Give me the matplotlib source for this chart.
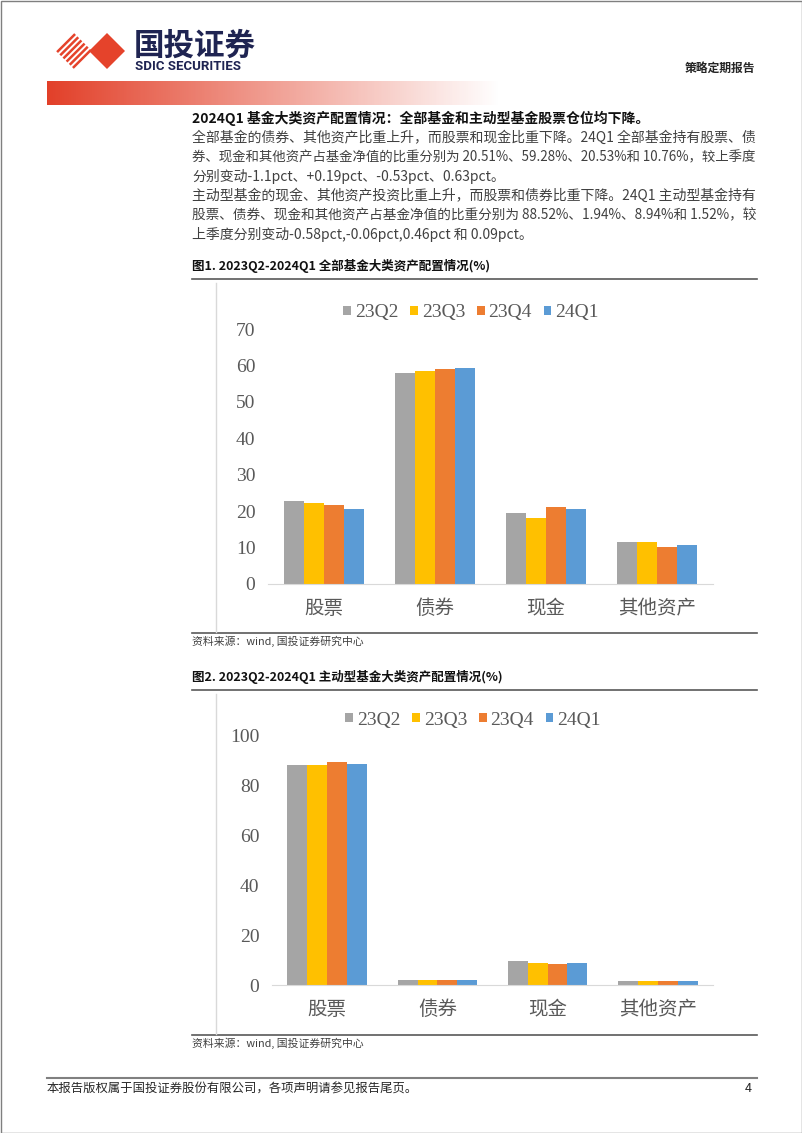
import numpy as np
import matplotlib
matplotlib.use("Agg")
import matplotlib.pyplot as plt
from matplotlib.patches import Polygon, Rectangle

plt.rcParams['font.family'] = ['Noto Sans CJK SC', 'DejaVu Sans']

# donnees
categories = ['股票', '债券', '现金', '其他资产']
quarters = ['23Q2', '23Q3', '23Q4', '24Q1']
colors = ['#A5A5A5', '#FFC000', '#ED7D31', '#5B9BD5']

# fig 1 : tous les fonds
all_23q2 = [22.7, 57.8, 19.6, 11.4]
all_23q3 = [22.3, 58.5, 18.0, 11.4]
all_23q4 = [21.61, 59.09, 21.06, 10.13]
all_24q1 = [20.51, 59.28, 20.53, 10.76]

# fig 2 : fonds actifs
act_23q2 = [88.2, 2.0, 9.6, 1.5]
act_23q3 = [88.1, 2.0, 8.7, 1.6]
act_23q4 = [89.10, 2.00, 8.48, 1.43]
act_24q1 = [88.52, 1.94, 8.94, 1.52]

W, H = 802, 1133
fig = plt.figure(figsize=(W / 100, H / 100), dpi=100)
renderer = fig.canvas.get_renderer()

# calque page en pixels
page = fig.add_axes([0, 0, 1, 1])
page.set_xlim(0, W)
page.set_ylim(H, 0)
page.axis('off')

# cadre de page
page.add_patch(Rectangle((0.5, 0.5), W - 1, H - 1, fill=False, ec='#7f7f7f', lw=1))

# logo : losange raye + losange plein
red = '#E5432B'
cx, cy, h = 74, 51, 18
L, T, R, B = np.array([cx - h, cy]), np.array([cx, cy - h]), np.array([cx + h, cy]), np.array([cx, cy + h])
for s in np.linspace(0.06, 0.94, 6):
    p = L + s * (B - L)
    q = p + (T - L)
    page.plot([p[0], q[0]], [p[1], q[1]], color=red, lw=1.8, solid_capstyle='butt')
cx2 = 107
page.add_patch(Polygon([[cx2 - h, cy], [cx2, cy - h], [cx2 + h, cy], [cx2, cy + h]], closed=True, fc=red, ec='none'))

page.text(134, 46, '国投证券', fontsize=22, fontweight='bold', color='#1F2452', va='center', ha='left')
page.text(135, 67, 'SDIC SECURITIES', fontsize=9.5, fontweight='bold', color='#1F2452', va='center', ha='left',
          family=['Roboto', 'DejaVu Sans'])
page.text(755, 68, '策略定期报告', fontsize=8.5, fontweight='bold', color='#262626', va='center', ha='right')

# bande degradee
x0, x1 = 47, 500
grad = np.zeros((1, 400, 4))
grad[..., 0], grad[..., 1], grad[..., 2] = 0.89, 0.25, 0.16
grad[..., 3] = (1 - np.linspace(0, 1, 400)) ** 1.0
page.imshow(grad, extent=[x0, x1, 105, 81], aspect='auto', interpolation='bilinear')

# texte du corps
page.text(192, 118, '2024Q1 基金大类资产配置情况：全部基金和主动型基金股票仓位均下降。',
          fontsize=10, fontweight='bold', color='#111111', va='center')
lines = [
    '全部基金的债券、其他资产比重上升，而股票和现金比重下降。24Q1 全部基金持有股票、债',
    '券、现金和其他资产占基金净值的比重分别为 20.51%、59.28%、20.53%和 10.76%，较上季度',
    '分别变动-1.1pct、+0.19pct、-0.53pct、0.63pct。',
    '主动型基金的现金、其他资产投资比重上升，而股票和债券比重下降。24Q1 主动型基金持有',
    '股票、债券、现金和其他资产占基金净值的比重分别为 88.52%、1.94%、8.94%和 1.52%，较',
    '上季度分别变动-0.58pct,-0.06pct,0.46pct 和 0.09pct。',
]
full = [True, True, False, True, True, False]
for k, s in enumerate(lines):
    t = page.text(192, 138 + k * 19.3, s, fontsize=10, color='#404040', va='center')
    if full[k]:
        # lignes justifiees : on ajuste la taille pour couvrir 192-757
        wpx = t.get_window_extent(renderer).width
        t.set_fontsize(10 * 565 / wpx)


def chart(rect_px, title, title_y, src_y, vals, ymax, step, leg_xy):
    left, top, right, bottom = rect_px
    # titre + filets
    page.text(192, title_y, title, fontsize=9, fontweight='bold', color='#111111', va='center')
    page.plot([192, 757], [title_y + 13, title_y + 13], color='#595959', lw=1.2)
    page.plot([192, 757], [src_y - 8, src_y - 8], color='#595959', lw=1.2)
    page.plot([216, 216], [title_y + 17, src_y - 9], color='#d9d9d9', lw=1)
    page.text(192, src_y, '资料来源：wind, 国投证券研究中心', fontsize=7.8, style='italic',
              color='#404040', va='center')

    ax = fig.add_axes([left / W, 1 - bottom / H, (right - left) / W, (bottom - top) / H])
    ax.set_facecolor('none')
    x = np.arange(len(categories))
    w = 0.18
    for i, q in enumerate(quarters):
        ax.bar(x + (i - 1.5) * w, vals[i], w, color=colors[i], label=q, zorder=2)
    ax.set_xlim(-0.5, 3.5)
    ax.set_ylim(0, ymax)
    ax.set_yticks(np.arange(0, ymax + 1, step))
    ax.set_xticks(x, categories)
    for sp in ['top', 'right', 'left']:
        ax.spines[sp].set_visible(False)
    ax.spines['bottom'].set_color('#d9d9d9')
    ax.tick_params(axis='x', length=0, pad=10, labelsize=14, labelcolor='#595959')
    ax.tick_params(axis='y', length=0, pad=9, labelsize=14, labelcolor='#595959')
    for lbl in ax.get_yticklabels():
        lbl.set_fontfamily('Liberation Serif')
    ax.legend(loc='center', bbox_to_anchor=(leg_xy[0] / W, 1 - leg_xy[1] / H),
              bbox_transform=fig.transFigure, ncol=4, frameon=False,
              handlelength=0.4, handleheight=0.4, handletextpad=0.2, columnspacing=0.6,
              prop={'family': 'Liberation Serif', 'size': 14}, labelcolor='#595959')
    return ax


chart((268, 329, 713, 584), '图1. 2023Q2-2024Q1 全部基金大类资产配置情况(%)', 266, 641,
      [all_23q2, all_23q3, all_23q4, all_24q1], 70, 10, (471, 313))
chart((272, 735, 713, 985), '图2. 2023Q2-2024Q1 主动型基金大类资产配置情况(%)', 677, 1043,
      [act_23q2, act_23q3, act_23q4, act_24q1], 100, 20, (473, 720))

# pied de page
page.plot([47, 757], [1078, 1078], color='#808080', lw=1.5)
page.text(47, 1089, '本报告版权属于国投证券股份有限公司，各项声明请参见报告尾页。', fontsize=8.9,
          color='#262626', va='center')
page.text(752, 1089, '4', fontsize=9, color='#262626', va='center', ha='right')

fig.savefig('out.png', dpi=100)
